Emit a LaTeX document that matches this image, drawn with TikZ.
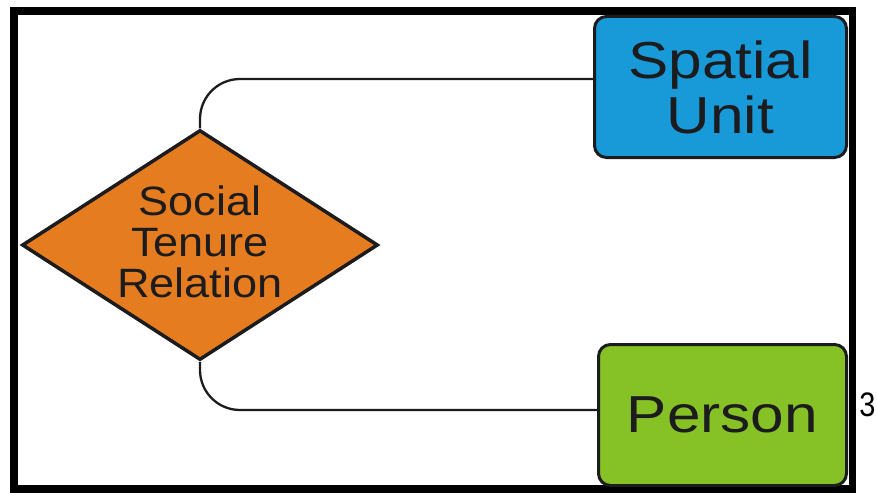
\documentclass[tikz,border=0pt]{standalone}
\usepackage{fontspec}
\setmainfont{Liberation Sans}
\newfontfamily\boxfont[FakeStretch=1.16]{Liberation Sans}
\newfontfamily\diafont[FakeStretch=1.1]{Liberation Sans}
\newfontfamily\numfont[FakeStretch=0.85]{Liberation Sans}
\usetikzlibrary{shapes.geometric}
\definecolor{suBlue}{RGB}{24,154,216}
\definecolor{pGreen}{RGB}{134,193,38}
\definecolor{strOrange}{RGB}{230,124,32}
\definecolor{inkDark}{RGB}{28,28,30}
\begin{document}
\begin{tikzpicture}[x=1pt,y=-1pt,
  entity/.style={draw=inkDark, line width=3pt, rounded corners=12pt, text=inkDark,
    align=center, inner sep=0pt, font=\boxfont\fontsize{52}{55}\selectfont},
  relshape/.style={diamond, draw=inkDark, line width=3.5pt, fill=strOrange, inner sep=0pt},
  link/.style={draw=inkDark, line width=2.3pt},
  frame/.style={draw=black, line width=7.5pt}
  ]
\useasboundingbox (0,0) rectangle (877,492);
\draw[frame] (14,11) rectangle (852.5,489);
\node[entity, fill=suBlue, minimum width=252pt, minimum height=141pt] (su) at (720.5,87) {Spatial\\Unit};
\node[entity, fill=pGreen, minimum width=248pt, minimum height=141pt] (p) at (722.5,415) {Person};
\node[relshape, minimum width=356pt, minimum height=230pt] (str) at (200,245) {};
\node[text=inkDark, align=center, inner sep=0pt, font=\diafont\fontsize{41}{41}\selectfont] (strtext) at ([yshift=3pt]str.center) {Social\\Tenure\\Relation};
\coordinate (suin) at ([yshift=8pt]su.west);
\coordinate (pin) at ([yshift=5pt]p.west);
\draw[link, rounded corners=40pt] (str.north) |- (suin);
\draw[link, rounded corners=40pt] (str.south) |- (pin);
\node[text=black, inner sep=0pt, font=\numfont\fontsize{34}{34}\selectfont] (pg) at (867.5,405) {3};
\end{tikzpicture}
\end{document}
